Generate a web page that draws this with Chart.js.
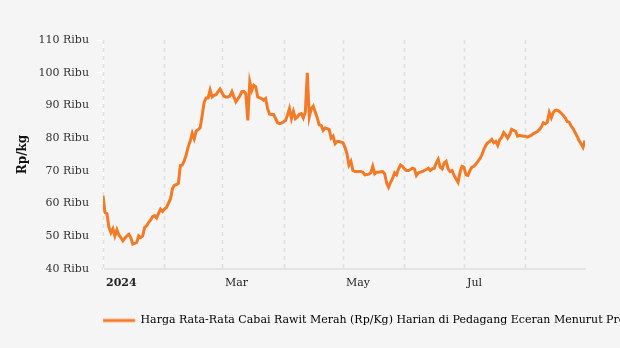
<!DOCTYPE html>
<html>
<head>
<meta charset="utf-8">
<script src="https://cdn.jsdelivr.net/npm/chart.js@4.4.1/dist/chart.umd.min.js"></script>
<style>
  body { margin: 0; background: #f5f5f5; }
  #chart { display: block; }
</style>
</head>
<body>
<canvas id="chart" width="620" height="348"></canvas>
<script>
// daily prices 1 Jan 2024 .. 31 Aug 2024 (thousand Rp/kg), day 0 = 1 Jan
const prices = [
  62.4, 57.3, 56.9, 52.7, 51.1, 52.3, 50.1, 52.0, 50.4, 49.6,
  48.6, 49.4, 50.1, 50.6, 49.6, 47.6, 47.8, 48.1, 50.1, 49.6,
  50.1, 52.7, 53.2, 54.2, 55.0, 56.0, 56.3, 55.6, 57.0, 58.3,
  57.6, 58.3, 58.8, 60.1, 61.4, 64.5, 65.6, 65.8, 66.2, 71.6,
  71.8, 73.2, 75.0, 77.5, 79.1, 81.5, 79.8, 82.2, 82.6, 83.2,
  87.0, 91.0, 92.3, 92.3, 94.7, 92.6, 93.1, 93.3, 94.2, 95.0,
  93.9, 92.8, 92.6, 92.6, 92.9, 94.2, 92.6, 91.1, 92.0, 92.9,
  94.2, 94.3, 93.6, 85.4, 97.2, 94.6, 96.2, 95.7, 92.6, 92.3,
  92.1, 91.6, 92.1, 89.0, 87.3, 87.2, 87.2, 86.0, 84.7, 84.4,
  84.6, 85.0, 85.4, 87.0, 89.0, 86.0, 88.2, 86.0, 86.5, 87.3,
  87.5, 86.2, 88.0, 100.0, 86.5, 89.0, 89.8, 88.0, 86.2, 84.1,
  83.9, 82.4, 83.1, 82.9, 82.7, 80.0, 80.6, 78.3, 79.0, 79.0,
  78.8, 78.6, 77.2, 75.2, 71.8, 72.9, 70.1, 69.8, 69.8, 69.8,
  69.8, 69.6, 68.8, 68.9, 69.0, 69.4, 71.4, 69.1, 69.6, 69.6,
  69.7, 69.8, 69.1, 66.3, 65.0, 66.5, 67.7, 69.4, 68.8, 70.6,
  71.8, 71.4, 70.6, 70.1, 70.1, 70.4, 70.8, 70.6, 68.6, 69.4,
  69.6, 69.8, 70.1, 70.4, 70.8, 70.1, 70.6, 70.8, 72.4, 73.5,
  71.1, 70.6, 72.4, 72.9, 70.6, 69.8, 70.1, 68.6, 67.5, 66.5,
  69.6, 71.4, 71.1, 68.8, 68.6, 70.1, 71.1, 71.4, 72.1, 72.9,
  73.7, 74.9, 76.5, 77.8, 78.6, 79.0, 79.6, 78.6, 79.0, 77.8,
  79.5, 80.3, 81.7, 81.0, 80.0, 81.0, 82.7, 82.4, 82.1, 80.6,
  80.8, 80.7, 80.6, 80.6, 80.3, 80.6, 80.9, 81.4, 81.7, 82.0,
  82.6, 83.4, 84.7, 84.4, 84.9, 87.8, 86.2, 87.8, 88.5, 88.5,
  88.2, 87.6, 87.0, 86.2, 85.1, 84.9, 83.7, 82.9, 81.7, 80.6,
  79.3, 78.3, 77.2, 79.3
];

// first day of each month (day index from 1 Jan)
const monthStarts = [0, 31, 60, 91, 121, 152, 182, 213];
const monthLabels = ["2024", "", "Mar", "", "May", "", "Jul", ""];
const yTicks = [40, 50, 60, 70, 80, 90, 100, 110];

const seriesName = "Harga Rata-Rata Cabai Rawit Merah (Rp/Kg) Harian di Pedagang Eceran Menurut Provinsi";
const lineColor = "#f47a25";
const serif = "'DejaVu Serif', serif";

const points = prices.map((v, i) => ({ x: i, y: v }));

new Chart(document.getElementById("chart"), {
  type: "line",
  data: {
    datasets: [{
      label: seriesName,
      data: points,
      borderColor: lineColor,
      backgroundColor: lineColor,
      borderWidth: 3,
      pointRadius: 0,
      tension: 0
    }]
  },
  options: {
    responsive: false,
    animation: false,
    layout: { padding: { top: 40, right: 35, bottom: 12, left: 0 } },
    plugins: {
      tooltip: { enabled: false },
      legend: {
        position: "bottom",
        align: "start",
        fullSize: false,
        labels: {
          padding: 0,
          boxWidth: 32,
          boxHeight: 3,
          color: "#222",
          font: { family: serif, size: 11 },
          generateLabels: (chart) => [{
            text: seriesName,
            fillStyle: lineColor,
            strokeStyle: "#f9b48a",
            lineWidth: 1,
            datasetIndex: 0
          }]
        }
      }
    },
    scales: {
      x: {
        type: "linear",
        min: 0,
        max: prices.length - 1,
        afterBuildTicks: (s) => { s.ticks = monthStarts.map(v => ({ value: v })); },
        afterFit: (s) => { s.height = 46; },
        grid: {
          drawOnChartArea: false,
          drawTicks: false
        },
        border: { color: "#e4e4e4", width: 2 },
        ticks: {
          align: "start",
          labelOffset: 3,
          padding: 8,
          maxRotation: 0,
          autoSkip: false,
          color: "#222",
          font: (ctx) => ({
            family: serif,
            size: 11,
            weight: ctx.tick && ctx.tick.value === 0 ? "bold" : "normal"
          }),
          callback: (v) => monthLabels[monthStarts.indexOf(v)]
        }
      },
      y: {
        min: 40,
        max: 110,
        afterBuildTicks: (s) => { s.ticks = yTicks.map(v => ({ value: v })); },
        afterFit: (s) => { s.width = 103; },
        border: { color: "#ffffff", width: 1 },
        grid: {
          drawOnChartArea: false,
          drawTicks: true,
          tickLength: 6,
          color: "#ffffff"
        },
        ticks: {
          padding: 8,
          color: "#333",
          font: { family: serif, size: 11 },
          callback: (v) => v + " Ribu"
        },
        title: {
          display: true,
          text: "Rp/kg",
          color: "#111",
          padding: { top: 16, bottom: 0 },
          font: { family: serif, size: 12, weight: "bold" }
        }
      }
    }
  },
  plugins: [{
    // let the legend run to the canvas edge, as in the original
    id: "wideLegend",
    afterLayout(chart) {
      if (chart.legend) {
        chart.legend.right = chart.width;
        chart.legend.width = chart.width - chart.legend.left;
      }
    }
  }, {
    // dashed vertical month lines
    id: "dashGrid",
    beforeDatasetsDraw(chart) {
      const { ctx, chartArea, scales } = chart;
      ctx.save();
      ctx.strokeStyle = "#e0e0e0";
      ctx.lineWidth = 1.5;
      ctx.setLineDash([4, 4]);
      monthStarts.forEach(d => {
        const x = Math.round(scales.x.getPixelForValue(d)) + 0.5;
        ctx.beginPath();
        ctx.moveTo(x, chartArea.top);
        ctx.lineTo(x, chartArea.bottom);
        ctx.stroke();
      });
      ctx.restore();
    }
  }]
});
</script>
</body>
</html>
